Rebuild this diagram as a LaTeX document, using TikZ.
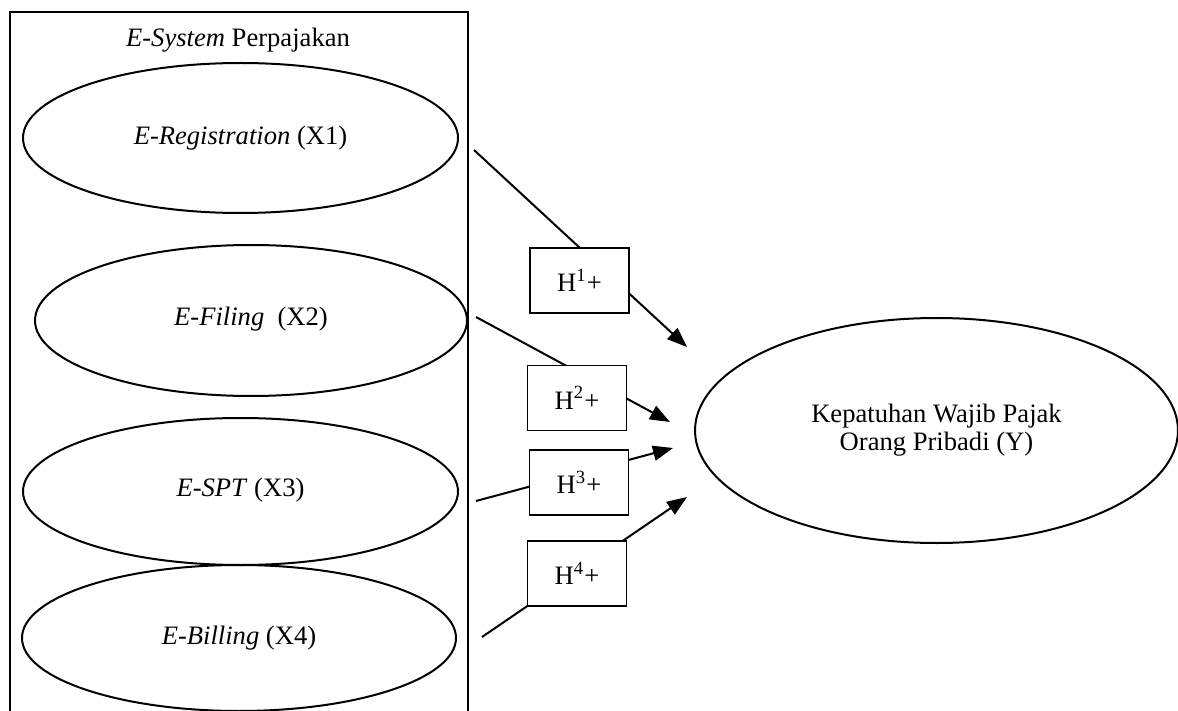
\documentclass[tikz,border=0pt]{standalone}
\usepackage{fontspec}
\setmainfont{Liberation Serif}
\usetikzlibrary{shapes.geometric, arrows.meta, positioning}

\begin{document}
\begin{tikzpicture}[x=0.5pt, y=-0.5pt]
    \tikzset{
        varellipse/.style={ellipse, draw, line width=1pt, inner sep=0pt, font=\fontsize{13.3}{16}\selectfont},
        hypbox/.style={draw, line width=0.6pt, fill=white, minimum width=49.5pt, minimum height=32.5pt, inner sep=0pt, font=\fontsize{13.3}{16}\selectfont},
        influence/.style={-{Triangle[length=10pt, width=7.5pt]}, line width=1pt}
    }
    \useasboundingbox (0,0) rectangle (1178,711);

    % grouping box, open at the bottom of the page
    \draw[line width=1pt] (10,720) -- (10,12) -- (468,12) -- (468,720);
    \node[font=\fontsize{13.3}{16}\selectfont] (title) at (238,40) {\textit{E-System} Perpajakan};

    \node[varellipse, minimum width=217.5pt, minimum height=75pt] (reg) at (240.5,138) {\raisebox{2.5pt}{\textit{E-Registration} (X1)}};
    \node[varellipse, minimum width=216pt, minimum height=75.5pt] (fil) at (251,320.5) {\raisebox{4.25pt}{\textit{E-Filing}\enspace(X2)}};
    \node[varellipse, minimum width=217.5pt, minimum height=73.5pt] (spt) at (240.5,491.5) {\raisebox{4.25pt}{\textit{E-SPT} (X3)}};
    \node[varellipse, minimum width=217pt, minimum height=73pt] (bil) at (239,638) {\raisebox{3pt}{\textit{E-Billing} (X4)}};

    \node[varellipse, minimum width=241.5pt, minimum height=112.5pt, align=center] (kep) at (936.5,430.5) {\raisebox{5pt}{\begin{tabular}{c}Kepatuhan Wajib Pajak\\[-2pt]Orang Pribadi (Y)\end{tabular}}};

    \coordinate (s1) at (474,150);
    \coordinate (t1) at (687,347);
    \coordinate (s2) at (476,317);
    \coordinate (t2) at (670,422);
    \coordinate (s3) at (476,501);
    \coordinate (t3) at (673,448);
    \coordinate (s4) at (482,637);
    \coordinate (t4) at (687,497);

    \draw[influence] (s1) -- (t1);
    \draw[influence] (s2) -- (t2);
    \draw[influence] (s3) -- (t3);
    \draw[influence] (s4) -- (t4);

    \node[hypbox] (h1) at (579.5,280.5) {H\textsuperscript{1}+};
    \node[hypbox] (h2) at (577,398) {H\textsuperscript{2}+};
    \node[hypbox] (h3) at (579,482.5) {H\textsuperscript{3}+};
    \node[hypbox] (h4) at (577,573.5) {H\textsuperscript{4}+};
\end{tikzpicture}
\end{document}
